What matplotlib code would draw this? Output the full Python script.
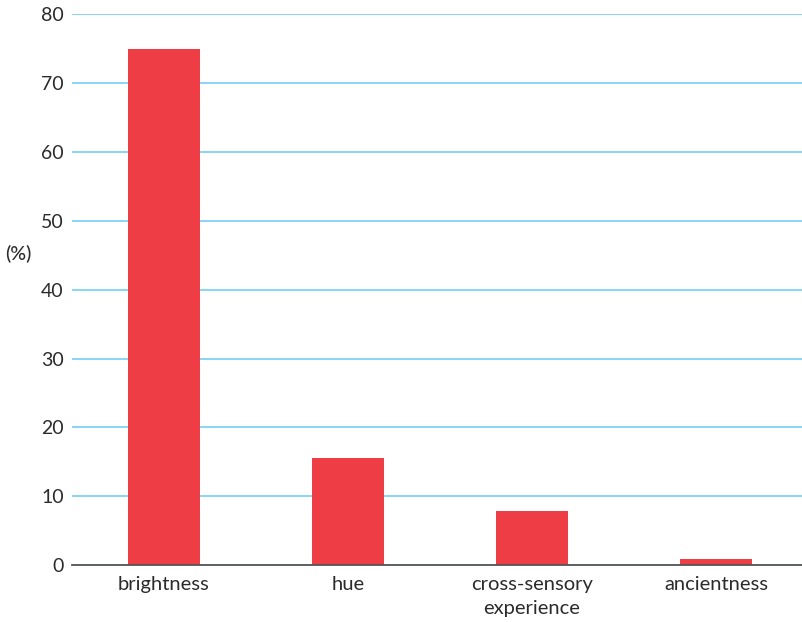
import matplotlib
matplotlib.use("Agg")
import matplotlib.pyplot as plt

categories = ["brightness", "hue", "cross-sensory\nexperience", "ancientness"]
values = [74.9, 15.5, 7.9, 0.9]
yticks = [0, 10, 20, 30, 40, 50, 60, 70, 80]

plt.rcParams['font.family'] = ['Lato', 'DejaVu Sans']

W, H = 803, 622
fig = plt.figure(figsize=(W / 100, H / 100), dpi=100)
left, right = 72, 808
top, bottom = 14, 565.3
ax = fig.add_axes([left / W, 1 - bottom / H, (right - left) / W, (bottom - top) / H])

x = list(range(len(categories)))
ax.bar(x, values, width=0.386, color="#EE3D45", zorder=3)
ax.set_xlim(-0.5, 3.5)
ax.set_ylim(0, 80)
ax.set_yticks(yticks)
ax.set_yticklabels([str(v) for v in yticks], fontsize=14, color="#2b2b2b")
ax.set_xticks(x)
ax.set_xticklabels(categories, fontsize=14.5, color="#2b2b2b", linespacing=1.45)
ax.tick_params(axis="y", length=0, pad=6)
ax.tick_params(axis="x", length=0, pad=8)
ax.yaxis.grid(True, color="#7DD3F5", linewidth=1.3, zorder=0)
ax.set_axisbelow(True)
for s in ["top", "right", "left"]:
    ax.spines[s].set_visible(False)
ax.spines["bottom"].set_color("#555555")
ax.spines["bottom"].set_linewidth(1.3)
ax.spines["bottom"].set_zorder(4)

fig.text(5 / W, 1 - 254 / H, "(%)", fontsize=14, fontweight="medium", color="#2b2b2b", ha="left", va="center")

fig.savefig("out.png", dpi=100)
